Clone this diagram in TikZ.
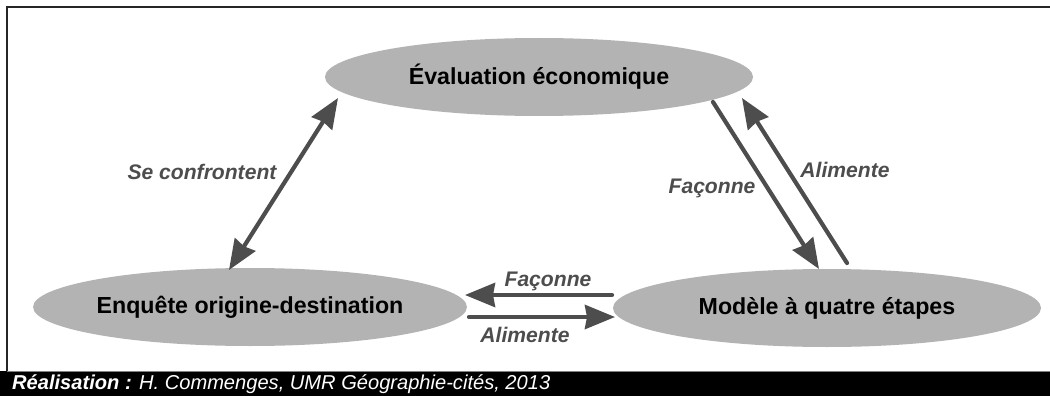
\documentclass[tikz,border=0pt]{standalone}
\usepackage{fontspec}
\setmainfont{Liberation Sans}
\usetikzlibrary{shapes.geometric,arrows.meta}
\definecolor{ellgray}{HTML}{B3B3B3}
\definecolor{arrgray}{HTML}{4D4D4D}
\begin{document}
\begin{tikzpicture}[x=1pt,y=-1pt,
  bubble/.style={ellipse,fill=ellgray,draw=none,minimum width=428pt,minimum height=78pt,inner sep=0pt,
    font=\fontsize{23.2pt}{27pt}\selectfont\bfseries,text=black},
  link/.style={draw=arrgray,line width=4.2pt,line cap=round,
    -{Stealth[length=30pt,width=24pt,inset=2pt]}},
  biglink/.style={draw=arrgray,line width=4.2pt,
    {Stealth[length=30pt,width=24pt,inset=2pt]}-{Stealth[length=30pt,width=24pt,inset=2pt]}},
  lab/.style={font=\fontsize{21.1pt}{25pt}\selectfont\bfseries\itshape,text=arrgray,inner sep=0pt}]
\useasboundingbox (0,0) rectangle (1050,396);
\fill[white] (0,0) rectangle (1050,396);
% frame
\draw[line width=2pt,black!85] (7,371) -- (7,7) -- (1051,7);
\fill[black] (0,371) rectangle (1050,396);
\draw[line width=0.8pt,black!50] (7,371) -- (1050,371);
\node[anchor=west,inner sep=0pt,text=white,font=\fontsize{20.1pt}{23pt}\selectfont\itshape] (credit) at (12,384)
  {\textbf{Réalisation :} H. Commenges, UMR Géographie-cités, 2013};
% nodes
\node[bubble] (top) at (539,77) {Évaluation économique};
\node[bubble] (left) at (250,307) {Enquête origine-destination};
\node[bubble] (right) at (827,308) {Modèle à quatre étapes};
% connectors
\draw[biglink] ([shift={(-21,-37)}]left.center) -- ([shift={(-201,21)}]top.center);
\draw[link] ([shift={(174,25)}]top.center) -- ([shift={(-8,-39)}]right.center);
\draw[link] ([shift={(20,-45)}]right.center) -- ([shift={(203,21)}]top.center);
\draw[link] ([shift={(-215,-13)}]right.center) -- ([shift={(215,-12)}]left.center);
\draw[link] ([shift={(219,10)}]left.center) -- ([shift={(-212,9)}]right.center);
% labels
\node[lab] (l1) at (202,172) {Se confrontent};
\node[lab] (l2) at (712,188) {Façonne};
\node[lab] (l3) at (845,170) {Alimente};
\node[lab] (l4) at (548,281) {Façonne};
\node[lab] (l5) at (525,335) {Alimente};
\end{tikzpicture}
\end{document}
